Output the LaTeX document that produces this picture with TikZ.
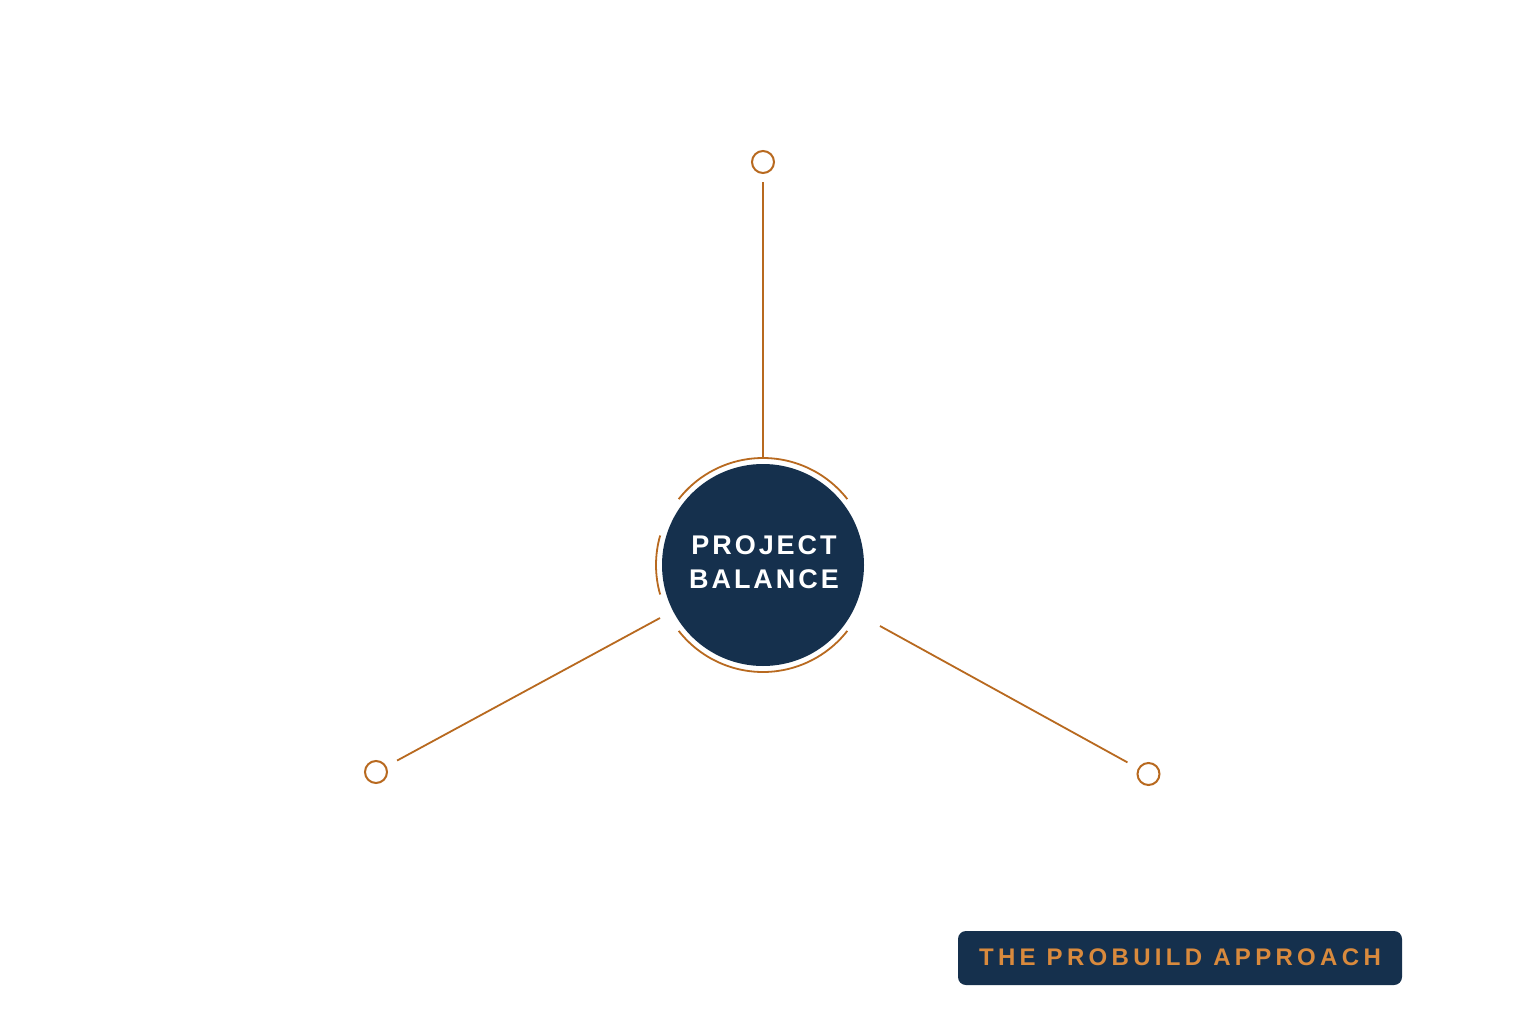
\documentclass[tikz,border=0pt]{standalone}
\usepackage{fontspec}
\usetikzlibrary{calc}
\setmainfont{Liberation Sans}
\newfontfamily\centerfont[LetterSpace=11]{Liberation Sans}
\newfontfamily\badgefont[LetterSpace=18]{Liberation Sans}
\definecolor{navy}{HTML}{15304D}
\definecolor{rust}{HTML}{B8691F}
\definecolor{badgetxt}{HTML}{D98A3D}
\begin{document}
\begin{tikzpicture}[x=1pt,y=-1pt,
  link/.style={draw=rust,line width=1.8pt},
  endpt/.style={circle,draw=rust,line width=2pt,minimum size=22pt,inner sep=0pt,fill=white},
  ringarc/.style={draw=rust,line width=1.8pt},
  hub/.style={circle,fill=navy,minimum size=202pt,inner sep=0pt},
  hubtext/.style={text=white,align=center,font=\centerfont\fontsize{27pt}{34pt}\selectfont\bfseries},
  badge/.style={fill=navy,rounded corners=8pt,minimum width=444pt,minimum height=54pt,inner sep=0pt},
  badgetext/.style={text=badgetxt,font=\badgefont\fontsize{24pt}{28pt}\selectfont\bfseries}]
\useasboundingbox (0,0) rectangle (1536,1024);
\fill[white] (0,0) rectangle (1536,1024);
% hub
\node[hub] (hub) at (763,565) {};
\node[hubtext] (hubtxt) at (764,562) {PROJECT\\BALANCE};
% ring arcs
\draw[ringarc] (hub.center) ++(-38:107) arc[start angle=-38,end angle=-142,radius=107];
\draw[ringarc] (hub.center) ++(-164:107) arc[start angle=-164,end angle=-196,radius=107];
\draw[ringarc] (hub.center) ++(-218:107) arc[start angle=-218,end angle=-322,radius=107];
% end points
\node[endpt] (top) at (763,162) {};
\node[endpt] (left) at (376,772) {};
\node[endpt] (right) at (1148.5,774) {};
\coordinate (topstart) at (763,458);
\coordinate (leftstart) at (660,618);
\coordinate (rightstart) at (880,626);
\draw[link] (topstart) -- ($(top)!20pt!(topstart)$);
\draw[link] (leftstart) -- ($(left)!24pt!(leftstart)$);
\draw[link] (rightstart) -- ($(right)!24pt!(rightstart)$);
% badge
\node[badge] (badge) at (1180,958) {};
\node[badgetext] (badgetxt) at (1180,957) {THE PROBUILD APPROACH};
\end{tikzpicture}
\end{document}
